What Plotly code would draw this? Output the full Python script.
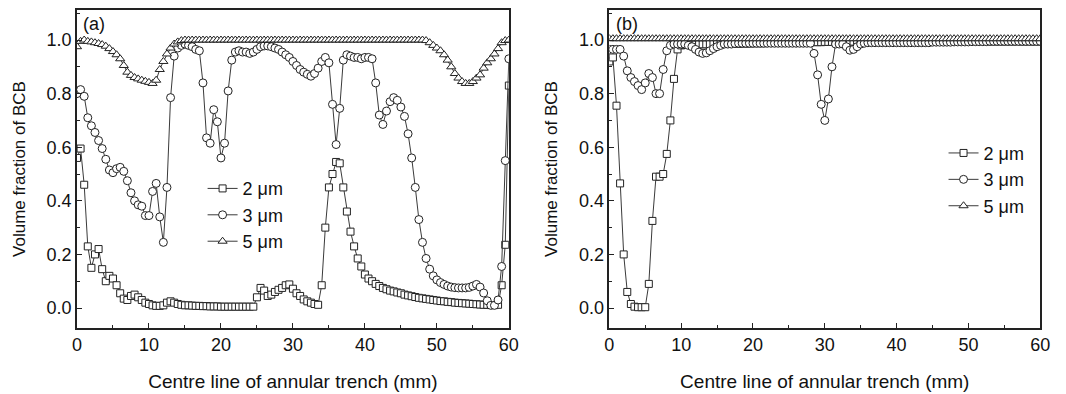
import plotly.graph_objects as go

# x positions along the centre line (mm), 0.5 mm spacing
x_mm = [i * 0.5 for i in range(121)]

# ---- Panel (a) ----
a_2um = [
    0.56, 0.595, 0.46, 0.23, 0.15, 0.20, 0.22, 0.145, 0.10, 0.12,
    0.11, 0.085, 0.055, 0.035, 0.03, 0.045, 0.05, 0.04, 0.03, 0.02,
    0.015, 0.01, 0.008, 0.008, 0.01, 0.02, 0.025, 0.02, 0.015, 0.012,
    0.01, 0.01, 0.009, 0.008, 0.008, 0.007, 0.007, 0.006, 0.006, 0.006,
    0.005, 0.005, 0.005, 0.005, 0.005, 0.005, 0.005, 0.005, 0.005, 0.005,
    0.04, 0.075, 0.065, 0.045, 0.05, 0.06, 0.068, 0.075, 0.085, 0.088,
    0.072, 0.055, 0.045, 0.032, 0.025, 0.02, 0.015, 0.012, 0.085, 0.30,
    0.45, 0.50, 0.545, 0.54, 0.45, 0.36, 0.285, 0.23, 0.185, 0.155,
    0.125, 0.11, 0.10, 0.09, 0.082, 0.075, 0.07, 0.065, 0.062, 0.058,
    0.055, 0.05, 0.047, 0.044, 0.041, 0.038, 0.036, 0.034, 0.032, 0.03,
    0.028, 0.026, 0.025, 0.023, 0.022, 0.02, 0.019, 0.018, 0.017, 0.016,
    0.015, 0.014, 0.013, 0.012, 0.012, 0.011, 0.011, 0.012, 0.085, 0.236,
    0.83,
]
a_3um = [
    0.80, 0.815, 0.79, 0.71, 0.68, 0.655, 0.625, 0.595, 0.555, 0.515,
    0.505, 0.52, 0.525, 0.51, 0.475, 0.43, 0.40, 0.385, 0.38, 0.345,
    0.345, 0.435, 0.465, 0.34, 0.245, 0.45, 0.785, 0.94, 0.97, 0.98,
    0.985, 0.98, 0.975, 0.965, 0.96, 0.84, 0.635, 0.615, 0.74, 0.695,
    0.56, 0.615, 0.81, 0.925, 0.955, 0.96, 0.955, 0.955, 0.95, 0.955,
    0.965, 0.975, 0.978, 0.978, 0.975, 0.97, 0.965, 0.955, 0.945, 0.935,
    0.92, 0.905, 0.89, 0.88, 0.872, 0.865, 0.875, 0.895, 0.92, 0.935,
    0.915, 0.76, 0.61, 0.745, 0.925, 0.945, 0.94, 0.935, 0.935, 0.93,
    0.935, 0.935, 0.93, 0.84, 0.72, 0.685, 0.735, 0.77, 0.785, 0.775,
    0.75, 0.715, 0.65, 0.56, 0.45, 0.33, 0.245, 0.185, 0.145, 0.12,
    0.105, 0.095, 0.088, 0.082, 0.078, 0.076, 0.075, 0.075, 0.075, 0.077,
    0.082, 0.088, 0.078, 0.056, 0.027, 0.01, 0.01, 0.03, 0.155, 0.55,
    0.93,
]
a_5um = [
    0.975, 0.995, 1.0, 0.995, 0.993, 0.99, 0.987, 0.983, 0.977, 0.968,
    0.957, 0.945, 0.93, 0.905, 0.88, 0.868, 0.86, 0.855, 0.85, 0.846,
    0.842, 0.838, 0.85, 0.89, 0.92, 0.948, 0.97, 0.985, 0.993, 0.998,
    1.0, 1.0, 1.0, 1.0, 1.0, 1.0, 1.0, 1.0, 1.0, 1.0,
    1.0, 1.0, 1.0, 1.0, 1.0, 1.0, 1.0, 1.0, 1.0, 1.0,
    1.0, 1.0, 1.0, 1.0, 1.0, 1.0, 1.0, 1.0, 1.0, 1.0,
    1.0, 1.0, 1.0, 1.0, 1.0, 1.0, 1.0, 1.0, 1.0, 1.0,
    1.0, 1.0, 1.0, 1.0, 1.0, 1.0, 1.0, 1.0, 1.0, 1.0,
    1.0, 1.0, 1.0, 1.0, 1.0, 1.0, 1.0, 1.0, 1.0, 1.0,
    1.0, 1.0, 1.0, 1.0, 1.0, 1.0, 1.0, 0.998, 0.99, 0.98,
    0.97, 0.96, 0.945, 0.925, 0.90, 0.875, 0.858, 0.845, 0.838, 0.838,
    0.845, 0.858, 0.87, 0.895, 0.915, 0.93, 0.948, 0.968, 0.99, 0.998,
    1.0,
]

# ---- Panel (b) ----
b_2um = [
    0.92, 0.935, 0.755, 0.465, 0.20, 0.06, 0.015, 0.005, 0.003, 0.003,
    0.003, 0.09, 0.325, 0.49, 0.49, 0.50, 0.575, 0.70, 0.855, 0.965,
    0.98, 0.982, 0.983, 0.983, 0.983, 0.984, 0.984, 0.984, 0.985, 0.985,
    0.985, 0.985, 0.985, 0.985, 0.986, 0.986, 0.986, 0.987, 0.987, 0.987,
    0.988, 0.988, 0.988, 0.988, 0.989, 0.989, 0.989, 0.99, 0.99, 0.99,
    0.99, 0.99, 0.99, 0.991, 0.991, 0.991, 0.992, 0.992, 0.992, 0.992,
    0.993, 0.993, 0.993, 0.993, 0.993, 0.994, 0.994, 0.994, 0.994, 0.994,
    0.995, 0.995, 0.995, 0.995, 0.995, 0.995, 0.995, 0.995, 0.995, 0.995,
    0.995, 0.995, 0.995, 0.995, 0.995, 0.995, 0.995, 0.995, 0.995, 0.995,
    0.995, 0.995, 0.995, 0.995, 0.995, 0.995, 0.995, 0.995, 0.995, 0.995,
    0.995, 0.995, 0.995, 0.995, 0.995, 0.995, 0.995, 0.995, 0.995, 0.995,
    0.995, 0.995, 0.995, 0.995, 0.995, 0.995, 0.995, 0.995, 0.995, 0.995,
    0.995,
]
b_3um = [
    0.965, 0.965, 0.965, 0.965, 0.94, 0.885, 0.86, 0.845, 0.83, 0.815,
    0.84, 0.875, 0.86, 0.80, 0.80, 0.89, 0.96, 0.98, 0.985, 0.985,
    0.985, 0.985, 0.98, 0.975, 0.965, 0.955, 0.95, 0.952, 0.96, 0.968,
    0.975, 0.98, 0.985, 0.985, 0.985, 0.987, 0.988, 0.988, 0.988, 0.988,
    0.988, 0.988, 0.988, 0.988, 0.988, 0.988, 0.988, 0.988, 0.988, 0.988,
    0.988, 0.988, 0.988, 0.988, 0.988, 0.988, 0.988, 0.95, 0.87, 0.76,
    0.70, 0.78, 0.90, 0.985, 0.985, 0.985, 0.975, 0.962, 0.965, 0.975,
    0.985, 0.988, 0.99, 0.99, 0.99, 0.99, 0.99, 0.99, 0.99, 0.99,
    0.99, 0.99, 0.99, 0.99, 0.99, 0.99, 0.99, 0.99, 0.99, 0.99,
    0.992, 0.992, 0.992, 0.992, 0.992, 0.992, 0.993, 0.993, 0.993, 0.993,
    0.993, 0.994, 0.994, 0.994, 0.994, 0.994, 0.995, 0.995, 0.995, 0.995,
    0.995, 0.995, 0.995, 0.995, 0.995, 0.995, 0.995, 0.995, 0.995, 0.995,
    0.995,
]
b_5um = [
    1.005, 1.005, 1.005, 1.005, 1.005, 1.005, 1.005, 1.005, 1.005, 1.005,
    1.005, 1.005, 1.005, 1.005, 1.005, 1.005, 1.005, 1.005, 1.005, 1.005,
    1.005, 1.005, 1.005, 1.005, 1.005, 1.005, 1.005, 1.005, 1.005, 1.005,
    1.005, 1.005, 1.005, 1.005, 1.005, 1.005, 1.005, 1.005, 1.005, 1.005,
    1.005, 1.005, 1.005, 1.005, 1.005, 1.005, 1.005, 1.005, 1.005, 1.005,
    1.005, 1.005, 1.005, 1.005, 1.005, 1.005, 1.005, 1.005, 1.005, 1.005,
    1.005, 1.005, 1.005, 1.005, 1.005, 1.005, 1.005, 1.005, 1.005, 1.005,
    1.005, 1.005, 1.005, 1.005, 1.005, 1.005, 1.005, 1.005, 1.005, 1.005,
    1.005, 1.005, 1.005, 1.005, 1.005, 1.005, 1.005, 1.005, 1.005, 1.005,
    1.005, 1.005, 1.005, 1.005, 1.005, 1.005, 1.005, 1.005, 1.005, 1.005,
    1.005, 1.005, 1.005, 1.005, 1.005, 1.005, 1.005, 1.005, 1.005, 1.005,
    1.005, 1.005, 1.005, 1.005, 1.005, 1.005, 1.005, 1.005, 1.005, 1.005,
    1.005,
]

series_names = ["2 \u03bcm", "3 \u03bcm", "5 \u03bcm"]
symbols = ["square", "circle", "triangle-up"]
sizes = [7, 8, 8]
x_ticks = [0, 10, 20, 30, 40, 50, 60]
y_ticks = [0.0, 0.2, 0.4, 0.6, 0.8, 1.0]
x_title = "Centre line of annular trench (mm)"
y_title = "Volume fraction of BCB"

FONT = "Arial, Liberation Sans, sans-serif"
LINE = "#3a3a3a"

fig = go.Figure()

panels = [
    ("x", "y", "legend", [a_2um, a_3um, a_5um]),
    ("x2", "y2", "legend2", [b_2um, b_3um, b_5um]),
]
for xa, ya, leg, data in panels:
    for name, sym, sz, vals in zip(series_names, symbols, sizes, data):
        assert len(vals) == len(x_mm)
        fig.add_trace(go.Scatter(
            x=x_mm, y=vals, name=name, mode="lines+markers",
            xaxis=xa, yaxis=ya, legend=leg,
            line=dict(color=LINE, width=1),
            marker=dict(symbol=sym, size=sz, color="white",
                        line=dict(color="#222222", width=1)),
        ))

axis_common = dict(
    showline=True, linecolor="#222222", linewidth=1.5, mirror=True,
    ticks="inside", ticklen=5, tickwidth=1.2, tickcolor="#222222",
    showgrid=False, zeroline=False,
    tickfont=dict(family=FONT, size=18, color="#111111"),
)
xaxis_cfg = dict(axis_common, range=[0, 60], tickvals=x_ticks,
                 minor=dict(dtick=5, ticks="inside", ticklen=3, tickcolor="#222222"),
                 title=dict(text=x_title, standoff=20,
                            font=dict(family=FONT, size=19, color="#111111")))
yaxis_cfg = dict(axis_common, range=[-0.0746, 1.112], tickvals=y_ticks,
                 tickformat=".1f",
                 minor=dict(dtick=0.1, ticks="inside", ticklen=3, tickcolor="#222222"),
                 title=dict(text=y_title, standoff=17,
                            font=dict(family=FONT, size=17, color="#111111")))

fig.update_layout(
    width=1066, height=394,
    margin=dict(l=0, r=0, t=0, b=0),
    paper_bgcolor="white", plot_bgcolor="white",
    font=dict(family=FONT, size=16, color="#111111"),
    xaxis=dict(xaxis_cfg, domain=[0.0685, 0.4794], anchor="y"),
    yaxis=dict(yaxis_cfg, domain=[0.1675, 0.9746], anchor="x"),
    xaxis2=dict(xaxis_cfg, domain=[0.5750, 0.9850], anchor="y2"),
    yaxis2=dict(yaxis_cfg, domain=[0.1675, 0.9746], anchor="x2"),
    legend=dict(x=0.188, y=0.568, xanchor="left", yanchor="top",
                bgcolor="rgba(0,0,0,0)", font=dict(family=FONT, size=18),
                tracegroupgap=0, itemwidth=30),
    legend2=dict(x=0.893, y=0.658, xanchor="left", yanchor="top",
                 bgcolor="rgba(0,0,0,0)", font=dict(family=FONT, size=18),
                 tracegroupgap=0, itemwidth=30),
    showlegend=True,
    annotations=[
        dict(text="(a)", xref="x domain", yref="y domain", x=0.01, y=0.995,
             xanchor="left", yanchor="top", showarrow=False,
             font=dict(family=FONT, size=18, color="#111111")),
        dict(text="(b)", xref="x2 domain", yref="y2 domain", x=0.01, y=0.995,
             xanchor="left", yanchor="top", showarrow=False,
             font=dict(family=FONT, size=18, color="#111111")),
    ],
)

fig.write_html("out.html")
